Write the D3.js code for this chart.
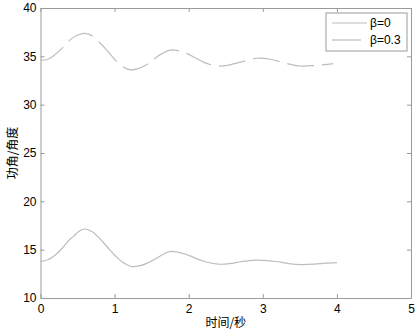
<!DOCTYPE html>
<html>
<head>
<meta charset="utf-8">
<script src="https://cdnjs.cloudflare.com/ajax/libs/d3/7.8.5/d3.min.js"></script>
<style>
  body { margin: 0; background: #fff; }
  svg { display: block; }
</style>
</head>
<body>
<div id="chart"></div>
<script>
// time samples (s)
const timeB0 = [0, 0.1, 0.2, 0.3, 0.38, 0.45, 0.52, 0.6, 0.7, 0.8, 0.9, 1.0, 1.1, 1.23, 1.35, 1.45, 1.55, 1.65, 1.74, 1.85, 1.95, 2.05, 2.15, 2.25, 2.4, 2.55, 2.7, 2.85, 3.0, 3.2, 3.35, 3.52, 3.7, 3.85, 4.0];
const angleB0 = [13.78, 13.95, 14.45, 15.2, 15.95, 16.4, 16.9, 17.14, 16.85, 16.15, 15.3, 14.45, 13.75, 13.25, 13.35, 13.65, 14.05, 14.5, 14.8, 14.75, 14.55, 14.25, 13.95, 13.7, 13.5, 13.55, 13.75, 13.9, 13.9, 13.75, 13.55, 13.45, 13.5, 13.6, 13.66];
const timeB03 = [0, 0.1, 0.2, 0.3, 0.4, 0.5, 0.6, 0.7, 0.8, 0.9, 1.0, 1.1, 1.21, 1.3, 1.4, 1.5, 1.6, 1.75, 1.9, 2.0, 2.1, 2.2, 2.38, 2.5, 2.7, 2.92, 3.1, 3.3, 3.5, 3.7, 3.95];
const angleB03 = [34.6, 34.7, 35.2, 35.9, 36.7, 37.2, 37.38, 37.1, 36.4, 35.6, 34.7, 34.0, 33.6, 33.7, 34.0, 34.5, 35.1, 35.65, 35.5, 35.2, 34.8, 34.4, 34.0, 34.05, 34.4, 34.8, 34.7, 34.3, 34.0, 34.05, 34.25];
const xTicks = [0, 1, 2, 3, 4, 5];
const yTicks = [10, 15, 20, 25, 30, 35, 40];
const legendLabels = ["β=0", "β=0.3"];

const W = 417, H = 331;
const margin = {top: 8, right: 6, bottom: 33, left: 40.5};
const width = W - margin.left - margin.right;
const height = H - margin.top - margin.bottom;

const svg = d3.select("#chart").append("svg")
    .attr("width", W)
    .attr("height", H);

const g = svg.append("g")
    .attr("transform", "translate(" + margin.left + "," + margin.top + ")");

const xScale = d3.scaleLinear().domain([0, 5]).range([0, width]);
const yScale = d3.scaleLinear().domain([10, 40]).range([height, 0]);

const axisColor = "#9a9a9a";
const lineColor = "#bdbdbd";
const tickFont = "Liberation Sans, Arial, sans-serif";

function styleAxis(sel, showLabels) {
    sel.select(".domain").attr("stroke", axisColor);
    sel.selectAll(".tick line").attr("stroke", axisColor);
    sel.selectAll(".tick text")
        .attr("fill", "#000")
        .attr("font-family", tickFont)
        .attr("font-size", "12px");
    if (!showLabels) sel.selectAll(".tick text").remove();
}

// bottom + left axes with labels, ticks pointing inward
g.append("g")
    .attr("transform", "translate(0," + height + ")")
    .call(d3.axisBottom(xScale).tickValues(xTicks).tickFormat(d3.format("d")).tickSizeInner(-4).tickSizeOuter(0).tickPadding(6))
    .call(s => styleAxis(s, true));

g.append("g")
    .call(d3.axisLeft(yScale).tickValues(yTicks).tickFormat(d3.format("d")).tickSizeInner(-4).tickSizeOuter(0).tickPadding(4))
    .call(s => styleAxis(s, true));

// top + right axes, ticks only
g.append("g")
    .call(d3.axisTop(xScale).tickValues(xTicks).tickSizeInner(-4).tickSizeOuter(0))
    .call(s => styleAxis(s, false));

g.append("g")
    .attr("transform", "translate(" + width + ",0)")
    .call(d3.axisRight(yScale).tickValues(yTicks).tickSizeInner(-4).tickSizeOuter(0))
    .call(s => styleAxis(s, false));

const line = d3.line()
    .x(d => xScale(d[0]))
    .y(d => yScale(d[1]))
    .curve(d3.curveCatmullRom);

g.append("path")
    .datum(timeB0.map((t, i) => [t, angleB0[i]]))
    .attr("fill", "none")
    .attr("stroke", lineColor)
    .attr("stroke-width", 1.2)
    .attr("d", line);

g.append("path")
    .datum(timeB03.map((t, i) => [t, angleB03[i]]))
    .attr("fill", "none")
    .attr("stroke", lineColor)
    .attr("stroke-width", 1.2)
    .attr("stroke-dasharray", "27,8")
    .attr("d", line);

// legend
const legend = svg.append("g").attr("transform", "translate(326,13)");
legend.append("rect")
    .attr("width", 81)
    .attr("height", 38)
    .attr("fill", "#fff")
    .attr("stroke", axisColor)
    .attr("stroke-width", 1);

legendLabels.forEach((lab, i) => {
    const yy = 10 + i * 17;
    legend.append("line")
        .attr("x1", 6).attr("x2", 41)
        .attr("y1", yy).attr("y2", yy)
        .attr("stroke", lineColor)
        .attr("stroke-width", 1.2)
        .attr("stroke-dasharray", i === 1 ? "29,8" : null);
    legend.append("text")
        .attr("x", 44)
        .attr("y", yy + 4)
        .attr("font-family", tickFont)
        .attr("font-size", "12px")
        .attr("fill", "#000")
        .text(lab);
});

// axis titles
svg.append("text")
    .attr("x", margin.left + width / 2)
    .attr("y", 327)
    .attr("text-anchor", "middle")
    .attr("font-family", "Noto Sans CJK SC, sans-serif")
    .attr("font-size", "12px")
    .attr("fill", "#000")
    .text("时间/秒");

svg.append("text")
    .attr("transform", "translate(17," + (margin.top + height / 2) + ") rotate(-90)")
    .attr("text-anchor", "middle")
    .attr("font-family", "Noto Sans CJK SC, sans-serif")
    .attr("font-size", "12px")
    .attr("fill", "#000")
    .text("功角/角度");
</script>
</body>
</html>
